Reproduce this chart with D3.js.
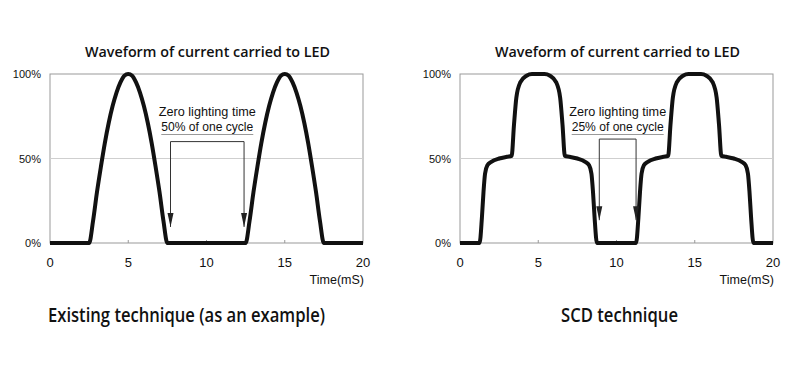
<!DOCTYPE html>
<html lang="en">
<head>
<meta charset="utf-8">
<title>Waveform of current carried to LED</title>
<script src="https://d3js.org/d3.v7.min.js"></script>
<style>
  body { margin: 0; background: #fff; }
  svg { display: block; }
  .tick-label { font-family: "Liberation Sans", Arial, sans-serif; fill: #111; }
  .title { font-family: "Open Sans", "Noto Sans", sans-serif; font-weight: 600; fill: #111; }
  .note { font-family: "Liberation Sans", Arial, sans-serif; fill: #111; }
  .caption { font-family: "Open Sans", "Noto Sans", sans-serif; font-weight: 600; fill: #111; }
</style>
</head>
<body>
<svg id="chart" width="800" height="378"></svg>
<script>
// ---- data ----
var timeTicks = [0, 5, 10, 15, 20];
var pctTicks = [0, 50, 100];
var pctLabels = ["0%", "50%", "100%"];

var chartTitle = "Waveform of current carried to LED";
var axisName = "Time(mS)";

// existing technique: half-sine pulses, 50% of the cycle dark
var existingTime = [0, 2.5, 2.75, 3, 3.25, 3.5, 3.75, 4, 4.25, 4.5, 4.75, 5, 5.25, 5.5, 5.75, 6, 6.25, 6.5, 6.75, 7, 7.25, 7.5,
                    12.5, 12.75, 13, 13.25, 13.5, 13.75, 14, 14.25, 14.5, 14.75, 15, 15.25, 15.5, 15.75, 16, 16.25, 16.5, 16.75, 17, 17.25, 17.5, 20];
var existingCurrent = [0, 0, 13, 30, 45, 59, 71, 81, 89, 95, 99, 100, 99, 95, 89, 81, 71, 59, 45, 30, 13, 0,
                       0, 13, 30, 45, 59, 71, 81, 89, 95, 99, 100, 99, 95, 89, 81, 71, 59, 45, 30, 13, 0, 0];

// SCD technique: stepped pulses, 25% of the cycle dark
var scdTime = [0, 1.25, 1.4, 1.5, 1.6, 1.75, 2, 2.5, 3, 3.3, 3.45, 3.6, 3.85, 4.25, 4.6, 5, 5.4, 5.75, 6.15, 6.4, 6.55, 6.7, 7, 7.5, 8, 8.25, 8.4, 8.5, 8.6, 8.75,
               11.25, 11.4, 11.5, 11.6, 11.75, 12, 12.5, 13, 13.3, 13.45, 13.6, 13.85, 14.25, 14.6, 15, 15.4, 15.75, 16.15, 16.4, 16.55, 16.7, 17, 17.5, 18, 18.25, 18.4, 18.5, 18.6, 18.75, 20];
var scdCurrent = [0, 0, 15, 30, 41, 46, 48, 50, 51, 51.5, 70, 86, 95, 99, 100, 100, 100, 99, 95, 86, 70, 51.5, 51, 50, 48, 46, 41, 30, 15, 0,
                  0, 15, 30, 41, 46, 48, 50, 51, 51.5, 70, 86, 95, 99, 100, 100, 100, 99, 95, 86, 70, 51.5, 51, 50, 48, 46, 41, 30, 15, 0, 0];

// zero-lighting annotations: [start, end] in ms, bracket level and arrow tip in %
var existingGap = [7.7, 12.4], existingGapLevel = [60, 9.5];
var scdGap = [8.9, 11.25], scdGapLevel = [61.5, 13.5];

var noteLine1 = "Zero lighting time";
var existingNote = "50% of one cycle";
var scdNote = "25% of one cycle";

var existingCaption = "Existing technique (as an example)";
var scdCaption = "SCD technique";

var svg = d3.select("#chart");

function drawPanel(left, times, values, gap, gapLevel, note, caption, captionX, captionW) {
    var x = d3.scaleLinear().domain([0, 20]).range([left, left + 313]);
    var y = d3.scaleLinear().domain([0, 100]).range([243, 74]);
    var g = svg.append("g");

    // plot frame
    g.append("rect")
        .attr("x", x(0)).attr("y", y(100))
        .attr("width", x(20) - x(0)).attr("height", y(0) - y(100))
        .attr("fill", "none").attr("stroke", "#999").attr("stroke-width", 1);

    // 50% grid line
    g.append("line")
        .attr("x1", x(0)).attr("x2", x(20))
        .attr("y1", y(50)).attr("y2", y(50))
        .attr("stroke", "#cfcfcf").attr("stroke-width", 1);

    // small inward ticks on the time axis
    g.selectAll(".xt").data(timeTicks.slice(1, -1)).enter().append("line")
        .attr("x1", d => x(d)).attr("x2", d => x(d))
        .attr("y1", y(0)).attr("y2", y(0) - 3)
        .attr("stroke", "#999");

    g.selectAll(".xl").data(timeTicks).enter().append("text")
        .attr("class", "tick-label")
        .attr("x", d => x(d)).attr("y", 267)
        .attr("text-anchor", "middle")
        .attr("font-size", 13)
        .text(d => d);

    g.selectAll(".yl").data(pctTicks).enter().append("text")
        .attr("class", "tick-label")
        .attr("x", x(0) - 9).attr("y", d => y(d) + 4)
        .attr("text-anchor", "end")
        .attr("font-size", 11)
        .text((d, i) => pctLabels[i]);

    g.append("text")
        .attr("class", "tick-label")
        .attr("x", x(20) + 1).attr("y", 284)
        .attr("text-anchor", "end")
        .attr("font-size", 12.5)
        .text(axisName);

    g.append("text")
        .attr("class", "title")
        .attr("x", x(10) + 1).attr("y", 57)
        .attr("text-anchor", "middle")
        .attr("font-size", 15)
        .attr("textLength", 245).attr("lengthAdjust", "spacingAndGlyphs")
        .text(chartTitle);

    // waveform
    var pts = times.map((t, i) => [t, values[i]]);
    var line = d3.line()
        .x(d => x(d[0])).y(d => y(d[1]))
        .curve(d3.curveMonotoneX);
    g.append("path")
        .datum(pts)
        .attr("d", line)
        .attr("fill", "none")
        .attr("stroke", "#111")
        .attr("stroke-width", 4)
        .attr("stroke-linejoin", "round");

    // zero lighting bracket with arrows
    var bracket = [[gap[0], gapLevel[1]], [gap[0], gapLevel[0]], [gap[1], gapLevel[0]], [gap[1], gapLevel[1]]];
    g.append("path")
        .datum(bracket)
        .attr("d", d3.line().x(d => x(d[0])).y(d => y(d[1])))
        .attr("fill", "none")
        .attr("stroke", "#333")
        .attr("stroke-width", 1);

    g.selectAll(".head").data(gap).enter().append("path")
        .attr("d", function (d) {
            var tx = x(d), ty = y(gapLevel[1]);
            return "M" + (tx - 3) + "," + (ty - 14) + "L" + (tx + 3) + "," + (ty - 14) + "L" + tx + "," + ty + "Z";
        })
        .attr("fill", "#222");

    var cx = (x(gap[0]) + x(gap[1])) / 2;
    g.append("text")
        .attr("class", "note")
        .attr("x", cx).attr("y", 116)
        .attr("text-anchor", "middle")
        .attr("font-size", 12.5)
        .attr("textLength", 97).attr("lengthAdjust", "spacingAndGlyphs")
        .text(noteLine1);
    g.append("text")
        .attr("class", "note")
        .attr("x", cx).attr("y", 131)
        .attr("text-anchor", "middle")
        .attr("font-size", 12.5)
        .attr("textLength", 92).attr("lengthAdjust", "spacingAndGlyphs")
        .text(note);
    g.append("line")
        .attr("x1", cx - 46).attr("x2", cx + 46)
        .attr("y1", 134.5).attr("y2", 134.5)
        .attr("stroke", "#999").attr("stroke-width", 1);

    svg.append("text")
        .attr("class", "caption")
        .attr("x", captionX).attr("y", 322)
        .attr("font-size", 19)
        .attr("textLength", captionW).attr("lengthAdjust", "spacingAndGlyphs")
        .text(caption);
}

drawPanel(50, existingTime, existingCurrent, existingGap, existingGapLevel, existingNote, existingCaption, 48, 277);
drawPanel(460, scdTime, scdCurrent, scdGap, scdGapLevel, scdNote, scdCaption, 561, 117);
</script>
</body>
</html>
